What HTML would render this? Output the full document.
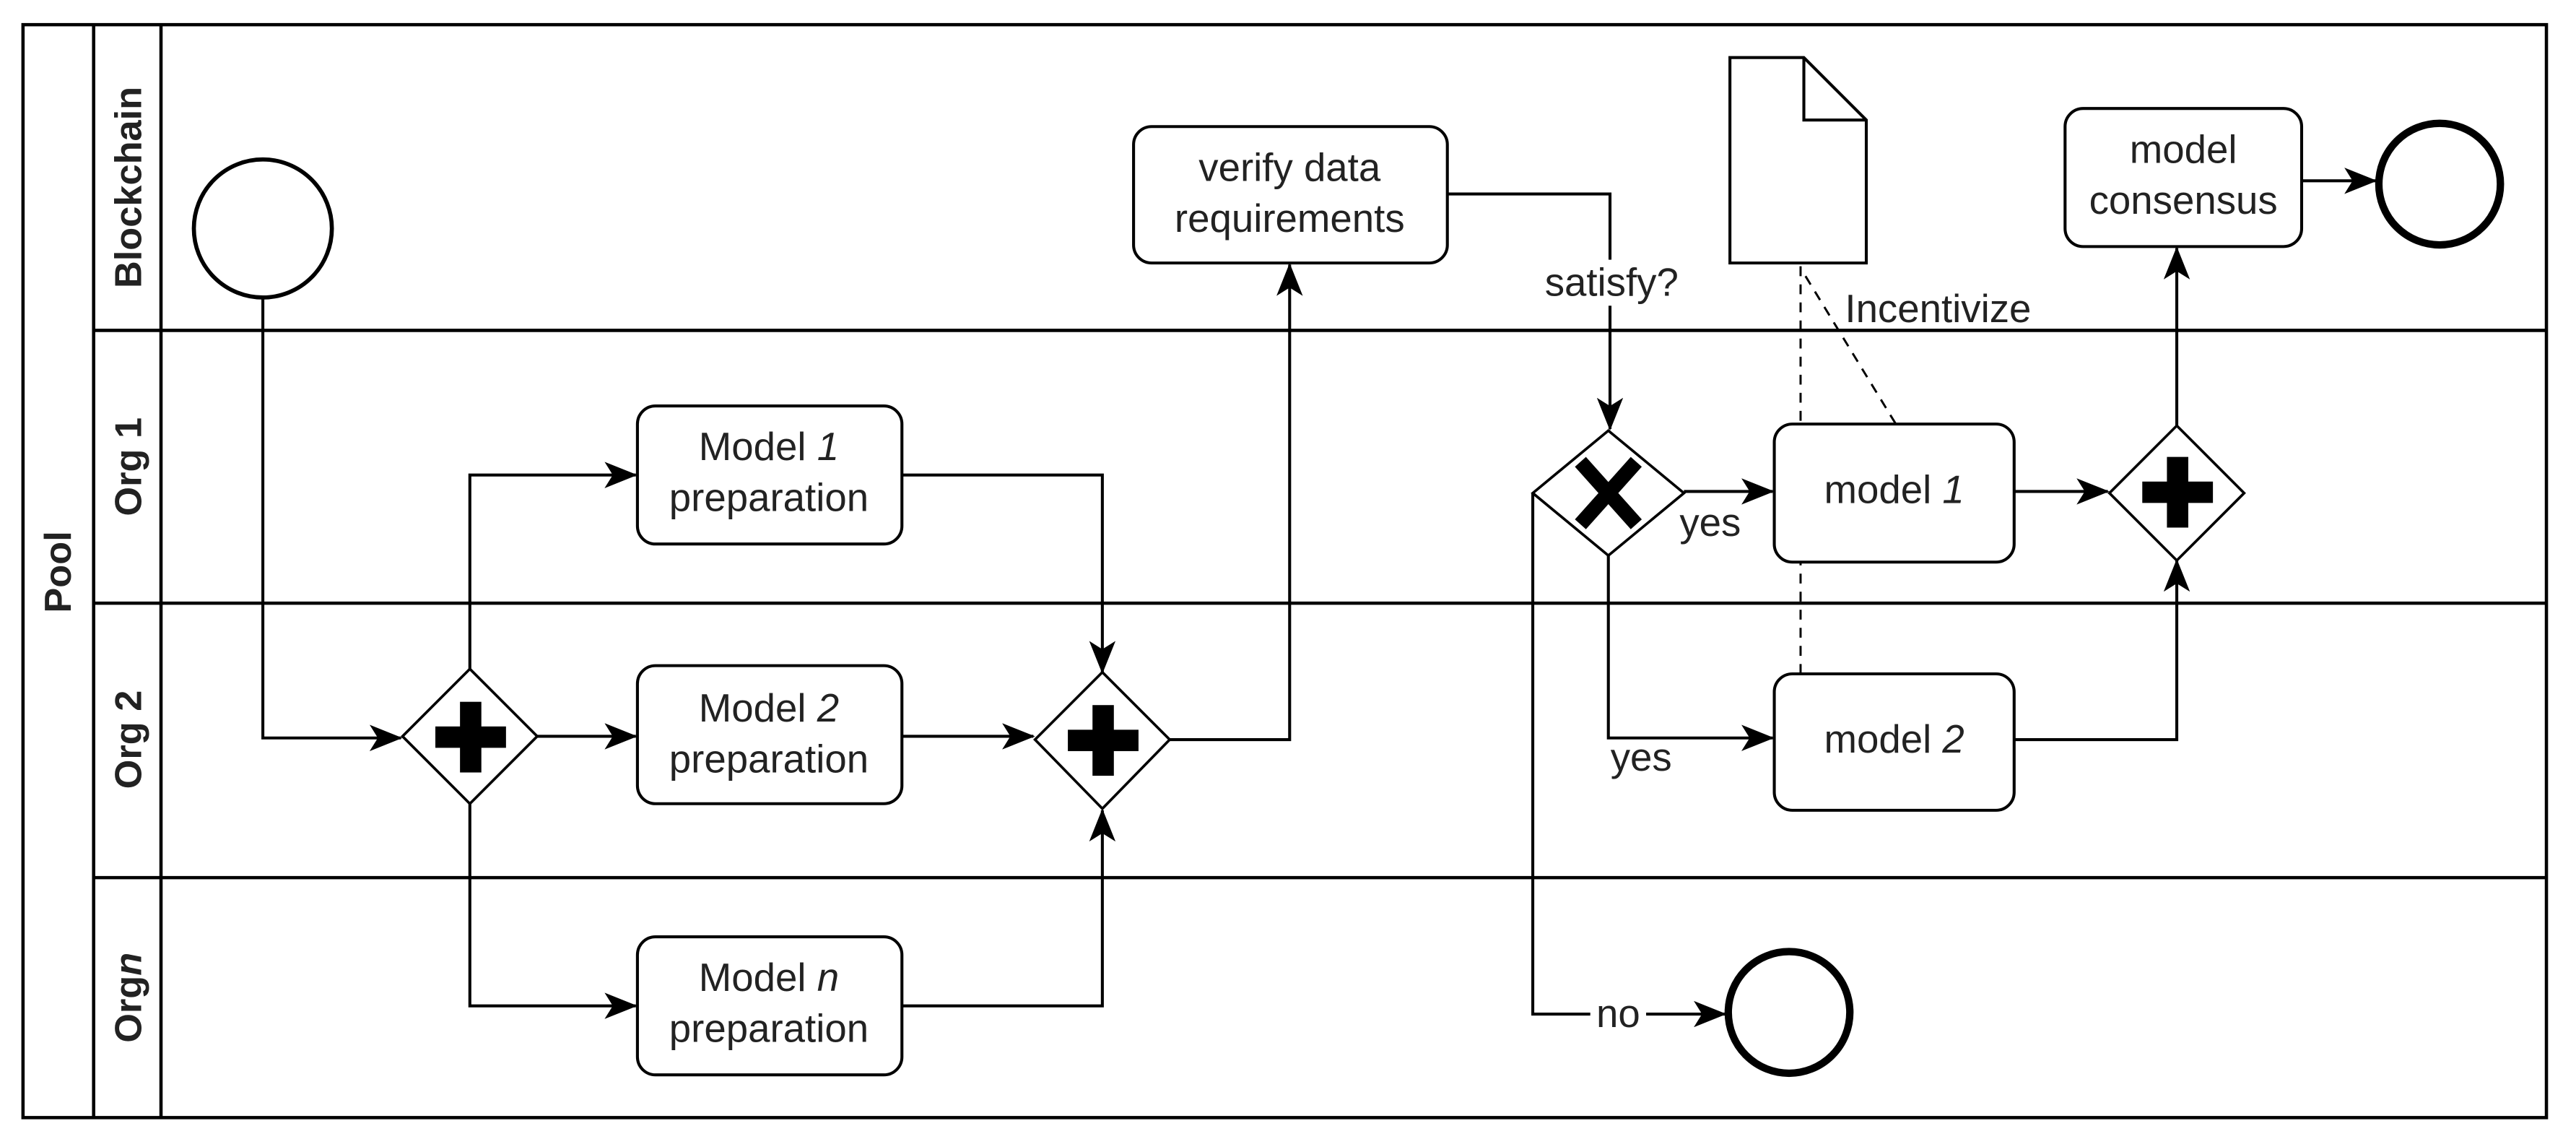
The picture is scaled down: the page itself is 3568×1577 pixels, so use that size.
<!DOCTYPE html>
<html><head><meta charset="utf-8"><style>
html,body{margin:0;padding:0;background:#fff;}
svg{display:block;}
text{font-family:"Liberation Sans",sans-serif;fill:#222;}
</style></head><body>
<svg width="3568" height="1577" viewBox="0 0 1568 693" xmlns="http://www.w3.org/2000/svg">
<defs>
<marker id="a" viewBox="0 0 20 16" refX="19" refY="8" markerWidth="20" markerHeight="16" markerUnits="userSpaceOnUse" orient="auto">
<path d="M0,0 L20,8 L0,16 L5,8 Z" fill="#000"/>
</marker>
</defs>
<rect x="0" y="0" width="1568" height="693" fill="#fff"/>
<g stroke="#000" stroke-width="2" fill="none">
<rect x="14" y="15" width="1536" height="665"/>
<line x1="57" y1="15" x2="57" y2="680"/>
<line x1="98" y1="15" x2="98" y2="680"/>
<line x1="57" y1="201" x2="1550" y2="201"/>
<line x1="57" y1="367" x2="1550" y2="367"/>
<line x1="57" y1="534" x2="1550" y2="534"/>
</g>
<g font-weight="bold" font-size="23" text-anchor="middle">
<text transform="translate(43,348) rotate(-90)">Pool</text>
<text transform="translate(86,114) rotate(-90)">Blockchain</text>
<text transform="translate(86,284) rotate(-90)">Org 1</text>
<text transform="translate(86,450) rotate(-90)">Org 2</text>
<text transform="translate(86,607) rotate(-90)">Org<tspan font-style="italic">n</tspan></text>
</g>
<g stroke="#000" stroke-width="1.8" fill="none">
<path d="M160,181 V449 H244" marker-end="url(#a)"/>
<path d="M286,407 V289 H387" marker-end="url(#a)"/>
<path d="M327,448 H387" marker-end="url(#a)"/>
<path d="M286,489 V612 H387" marker-end="url(#a)"/>
<path d="M549,289 H671 V409" marker-end="url(#a)"/>
<path d="M549,448 H629" marker-end="url(#a)"/>
<path d="M549,612 H671 V493" marker-end="url(#a)"/>
<path d="M712,450 H785 V161" marker-end="url(#a)"/>
<path d="M881,118 H980 V261" marker-end="url(#a)"/>
<path d="M1025,299 H1079" marker-end="url(#a)"/>
<path d="M979,338 V449 H1079" marker-end="url(#a)"/>
<path d="M933,300 V617 H1050" marker-end="url(#a)"/>
<path d="M1226,299 H1283" marker-end="url(#a)"/>
<path d="M1226,450 H1325 V341" marker-end="url(#a)"/>
<path d="M1325,259 V151" marker-end="url(#a)"/>
<path d="M1401,110 H1446" marker-end="url(#a)"/>
</g>
<g stroke="#000" stroke-width="1.3" stroke-dasharray="6,5" fill="none">
<line x1="1096" y1="162" x2="1096" y2="410"/>
<line x1="1099" y1="168" x2="1154" y2="258"/>
</g>
<rect x="936" y="158" width="90" height="28" fill="#fff"/>
<text x="981" y="180" font-size="24" text-anchor="middle">satisfy?</text>
<text x="1123" y="196" font-size="24">Incentivize</text>
<text x="1041" y="326" font-size="24" text-anchor="middle">yes</text>
<rect x="976" y="451" width="46" height="22" fill="#fff"/>
<text x="999" y="469" font-size="24" text-anchor="middle">yes</text>
<rect x="968" y="606" width="34" height="22" fill="#fff"/>
<text x="985" y="625" font-size="24" text-anchor="middle">no</text>
<circle cx="160" cy="139" r="42" fill="#fff" stroke="#000" stroke-width="2.5"/>
<circle cx="1089" cy="616" r="37" fill="#fff" stroke="#000" stroke-width="4.5"/>
<circle cx="1485" cy="112" r="37" fill="#fff" stroke="#000" stroke-width="4.5"/>
<g fill="#fff" stroke="#000" stroke-width="1.8">
<rect x="388" y="247" width="161" height="84" rx="11"/>
<rect x="388" y="405" width="161" height="84" rx="11"/>
<rect x="388" y="570" width="161" height="84" rx="11"/>
<rect x="690" y="77" width="191" height="83" rx="11"/>
<rect x="1080" y="258" width="146" height="84" rx="11"/>
<rect x="1080" y="410" width="146" height="83" rx="11"/>
<rect x="1257" y="66" width="144" height="84" rx="11"/>
<path d="M1053,35 H1098 L1136,73 V160 H1053 Z"/>
<path d="M1098,35 V73 H1136" fill="none"/>
</g>
<g font-size="24" text-anchor="middle">
<text x="468" y="280">Model <tspan font-style="italic">1</tspan></text>
<text x="468" y="311">preparation</text>
<text x="468" y="439">Model <tspan font-style="italic">2</tspan></text>
<text x="468" y="470">preparation</text>
<text x="468" y="603">Model <tspan font-style="italic">n</tspan></text>
<text x="468" y="634">preparation</text>
<text x="785" y="110">verify data</text>
<text x="785" y="141">requirements</text>
<text x="1153" y="306">model <tspan font-style="italic">1</tspan></text>
<text x="1153" y="458">model <tspan font-style="italic">2</tspan></text>
<text x="1329" y="99">model</text>
<text x="1329" y="130">consensus</text>
</g>
<g fill="#fff" stroke="#000" stroke-width="1.6">
<path d="M286,407 L327,448 L286,489 L245,448 Z"/>
<path d="M671,409 L712,450 L671,492 L630,450 Z"/>
<path d="M979,262 L1025,300 L979,338 L933,300 Z"/>
<path d="M1325,259 L1366,300 L1325,341 L1284,300 Z"/>
</g>
<g fill="#000">
<rect x="265" y="442" width="43" height="13"/><rect x="280" y="427" width="13" height="43"/>
<rect x="650" y="444" width="43" height="13"/><rect x="665" y="429" width="13" height="43"/>
<rect x="1304" y="293" width="43" height="13"/><rect x="1319" y="278" width="13" height="43"/>
</g>
<g stroke="#000" stroke-width="9" stroke-linecap="butt">
<line x1="962" y1="281" x2="996" y2="319"/><line x1="996" y1="281" x2="962" y2="319"/>
</g>
</svg>
</body></html>
